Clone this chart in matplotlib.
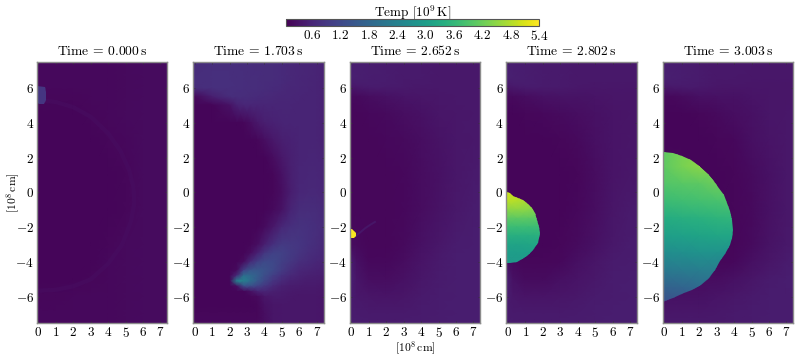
import matplotlib
matplotlib.use('Agg')
import matplotlib.pyplot as plt
import numpy as np
from matplotlib.patches import Polygon
from matplotlib.colors import Normalize

plt.rcParams['font.family'] = ['cmr10', 'DejaVu Serif']
plt.rcParams['mathtext.fontset'] = 'cm'
plt.rcParams['axes.formatter.use_mathtext'] = True
plt.rcParams['axes.unicode_minus'] = False

times = ['0.000', '1.703', '2.652', '2.802', '3.003']
cbar_ticks = [0.6, 1.2, 1.8, 2.4, 3.0, 3.6, 4.2, 4.8, 5.4]
x_ticks = [0, 1, 2, 3, 4, 5, 6, 7]
y_ticks = [-6, -4, -2, 0, 2, 4, 6]
v_min, v_max = 0.05, 5.4

# background temperature, rows from top to bottom
grid_x = [-0.1, 0.3, 1, 2, 3, 4, 5, 6, 7, 7.4]
grid_y = [7.5, 6.6, 6.1, 5.5, 4.5, 3, 1, -1, -3, -4, -5, -6, -7, -7.5]

t0_field = [
    [.17, .17, .17, .16, .16, .17, .18, .20, .20, .20],
    [.17, .17, .16, .16, .16, .17, .18, .20, .20, .20],
    [.17, .16, .16, .16, .16, .17, .18, .20, .20, .20],
    [.14, .14, .14, .15, .16, .17, .18, .20, .20, .20],
    [.12, .12, .12, .13, .14, .17, .18, .20, .20, .20],
    [.12, .12, .12, .12, .13, .14, .17, .20, .20, .20],
    [.12, .12, .12, .12, .12, .13, .15, .20, .20, .20],
    [.12, .12, .12, .12, .12, .13, .15, .20, .20, .20],
    [.12, .12, .12, .12, .12, .14, .18, .20, .20, .20],
    [.12, .12, .12, .12, .13, .16, .18, .20, .20, .20],
    [.13, .13, .13, .13, .15, .17, .18, .20, .20, .20],
    [.15, .15, .15, .16, .16, .17, .18, .20, .20, .20],
    [.16, .16, .16, .16, .17, .17, .18, .20, .20, .20],
    [.16, .16, .16, .16, .17, .17, .18, .20, .20, .20],
]
t2_field = [
    [.50, .48, .47, .43, .42, .41, .40, .40, .40, .40],
    [.50, .50, .48, .45, .42, .41, .40, .40, .40, .40],
    [.40, .42, .45, .44, .42, .40, .40, .40, .40, .40],
    [.18, .18, .22, .30, .34, .36, .38, .40, .40, .40],
    [.16, .15, .16, .18, .24, .30, .35, .38, .40, .40],
    [.15, .15, .15, .16, .19, .25, .32, .37, .40, .40],
    [.15, .15, .15, .15, .17, .22, .30, .37, .42, .42],
    [.15, .15, .15, .15, .16, .22, .32, .40, .45, .45],
    [.18, .18, .15, .15, .18, .28, .38, .45, .48, .48],
    [.50, .28, .17, .16, .22, .33, .42, .47, .48, .48],
    [.55, .35, .24, .22, .28, .38, .44, .47, .48, .48],
    [.48, .40, .36, .34, .36, .42, .46, .48, .48, .48],
    [.46, .44, .42, .42, .42, .44, .46, .48, .48, .48],
    [.48, .46, .44, .44, .44, .44, .46, .48, .48, .48],
]
t3_field = [
    [.50, .48, .46, .42, .42, .40, .40, .40, .40, .40],
    [.52, .50, .48, .44, .42, .40, .40, .40, .40, .40],
    [.38, .42, .45, .44, .42, .40, .38, .38, .38, .38],
    [.18, .18, .22, .28, .32, .32, .34, .36, .36, .36],
    [.13, .13, .14, .17, .20, .25, .30, .34, .36, .36],
    [.12, .12, .12, .13, .15, .18, .26, .33, .36, .36],
    [.12, .12, .12, .12, .13, .15, .23, .33, .38, .38],
    [.13, .13, .12, .12, .13, .16, .24, .36, .42, .42],
    [.20, .16, .13, .12, .14, .20, .30, .40, .45, .45],
    [.24, .18, .15, .14, .17, .26, .36, .43, .46, .46],
    [.52, .28, .20, .20, .26, .34, .40, .45, .47, .47],
    [.46, .38, .34, .34, .36, .40, .44, .46, .47, .47],
    [.44, .42, .42, .42, .42, .43, .45, .47, .47, .47],
    [.46, .44, .43, .43, .43, .43, .45, .47, .47, .47],
]
t4_field = [
    [.50, .48, .45, .42, .40, .40, .40, .38, .38, .38],
    [.52, .50, .47, .44, .40, .40, .38, .38, .38, .38],
    [.40, .42, .44, .42, .38, .36, .36, .36, .36, .36],
    [.16, .16, .20, .26, .30, .30, .33, .35, .36, .36],
    [.12, .12, .12, .15, .19, .24, .30, .35, .37, .37],
    [.12, .12, .12, .12, .14, .17, .26, .34, .37, .37],
    [.14, .14, .14, .13, .13, .15, .20, .30, .37, .37],
    [.14, .14, .14, .14, .13, .15, .18, .28, .38, .38],
    [.14, .14, .14, .14, .13, .15, .20, .32, .40, .40],
    [.14, .14, .14, .14, .14, .17, .26, .36, .44, .44],
    [.30, .28, .24, .22, .22, .28, .36, .44, .47, .47],
    [.24, .30, .28, .30, .34, .38, .42, .45, .46, .46],
    [.40, .38, .38, .38, .40, .42, .44, .46, .46, .46],
    [.40, .40, .40, .40, .40, .42, .44, .46, .46, .46],
]

p2_x = [-0.1, 1, 2, 2.4, 2.8, 3.2, 3.6, 4, 4.5, 5, 5.5, 6, 6.5, 7, 7.4]
p2_y = [7.5, 6.5, 6, 5.5, 5, 4, 3, 2, 1, 0, -1, -2, -3, -3.5, -4, -4.5, -4.8,
        -5.1, -5.4, -5.7, -6, -6.5, -7, -7.5]
t1_field = [
    [.70, .75, .75, .75, .72, .72, .70, .70, .70, .68, .65, .62, .60, .58, .55],
    [.75, .78, .78, .75, .75, .72, .72, .70, .70, .68, .65, .62, .60, .58, .55],
    [.72, .78, .78, .75, .75, .72, .72, .70, .68, .66, .63, .62, .60, .58, .55],
    [.15, .50, .72, .72, .72, .70, .68, .66, .65, .63, .62, .60, .58, .58, .55],
    [.12, .13, .30, .55, .62, .62, .60, .60, .60, .60, .60, .58, .58, .58, .55],
    [.12, .12, .12, .13, .15, .25, .40, .50, .55, .58, .58, .58, .58, .58, .55],
    [.12, .12, .12, .12, .12, .13, .15, .25, .40, .50, .55, .58, .58, .58, .55],
    [.12, .12, .12, .12, .12, .12, .12, .13, .22, .40, .52, .58, .60, .60, .58],
    [.12, .12, .12, .12, .12, .12, .12, .12, .15, .30, .50, .60, .62, .62, .60],
    [.12, .12, .12, .12, .12, .12, .12, .12, .14, .25, .48, .62, .65, .65, .62],
    [.12, .12, .12, .12, .12, .12, .12, .12, .18, .32, .58, .70, .72, .70, .66],
    [.12, .12, .12, .12, .12, .12, .13, .20, .40, .65, .78, .82, .80, .75, .70],
    [.12, .12, .12, .12, .12, .14, .25, .50, .80, .95, .92, .88, .80, .72, .65],
    [.12, .12, .12, .12, .13, .25, .55, .90, 1.10, 1.08, .95, .85, .75, .68, .62],
    [.12, .12, .12, .13, .22, .70, 1.05, 1.25, 1.22, 1.05, .90, .75, .68, .62, .58],
    [.12, .12, .12, .20, 1.1, 1.50, 1.50, 1.40, 1.20, .95, .76, .63, .58, .55, .52],
    [.12, .12, .12, .70, 2.0, 1.85, 1.60, 1.32, 1.02, .80, .65, .56, .52, .50, .48],
    [.12, .12, .13, 2.4, 2.4, 1.95, 1.50, 1.18, .85, .66, .54, .49, .45, .45, .42],
    [.12, .12, .13, .25, 1.3, 1.30, 1.10, .90, .66, .52, .46, .43, .42, .42, .40],
    [.12, .12, .12, .13, .13, .30, .55, .60, .50, .46, .42, .40, .40, .40, .38],
    [.12, .12, .12, .12, .12, .15, .18, .36, .42, .42, .40, .38, .38, .38, .36],
    [.13, .13, .13, .13, .13, .13, .14, .30, .36, .38, .38, .38, .38, .38, .36],
    [.15, .15, .15, .15, .15, .15, .15, .25, .35, .38, .38, .38, .38, .38, .36],
    [.16, .16, .16, .16, .16, .16, .16, .25, .35, .38, .38, .38, .38, .38, .36],
]
fields = [(grid_x, grid_y, t0_field), (p2_x, p2_y, t1_field), (grid_x, grid_y, t2_field),
          (grid_x, grid_y, t3_field), (grid_x, grid_y, t4_field)]

# hot regions: outline points and temperature tables
blob0_outline = [(-0.1, 6.1), (0.35, 6.05), (0.45, 5.8), (0.45, 5.3), (0.3, 5.1), (0.05, 5.1), (-0.1, 5.2)]
blob0_x, blob0_y = [-0.1, 0.5], [6.2, 5.0]
blob0_t = [[.88, .88], [.88, .88]]

blob2_outline = [(-0.1, -2.1), (0.05, -2.1), (0.15, -2.2), (0.25, -2.35), (0.25, -2.5), (0.15, -2.6), (-0.1, -2.62)]
blob2_x, blob2_y = [-0.1, 0.4], [-2.0, -2.7]
blob2_t = [[5.35, 5.35], [5.35, 5.35]]

blob3_outline = [(-0.1, 0.0), (0.1, -0.05), (0.3, -0.2), (0.88, -0.42), (1.15, -0.65), (1.36, -0.9), (1.52, -1.2), (1.64, -1.57),
                 (1.8, -2.0), (1.84, -2.33), (1.72, -2.9), (1.45, -3.3), (1.07, -3.67), (0.5, -4.0), (0.1, -4.08), (-0.1, -4.08)]
blob3_x, blob3_y = [-0.1, 0.5, 1.2, 1.9], [0.1, -0.5, -1, -1.5, -2, -2.5, -3, -3.5, -4.1]
blob3_t = [[5.0, 4.95, 4.8, 4.6],
           [4.85, 4.8, 4.65, 4.5],
           [4.45, 4.5, 4.45, 4.3],
           [4.05, 4.05, 4.05, 4.0],
           [3.7, 3.7, 3.7, 3.7],
           [3.4, 3.4, 3.4, 3.45],
           [3.15, 3.15, 3.2, 3.2],
           [3.0, 3.0, 3.0, 3.0],
           [2.95, 2.95, 2.9, 2.9]]

blob4_outline = [(-0.1, 2.32), (0.5, 2.28), (1, 2.12), (1.5, 1.85), (2, 1.52), (2.5, 1.05), (2.8, 0.72), (3.1, 0.32),
                 (3.4, -0.15), (3.6, -0.6), (3.75, -1.05), (3.88, -1.6), (3.93, -2.15), (3.9, -2.6), (3.75, -3.05),
                 (3.45, -3.55), (3.2, -3.95), (2.9, -4.45), (2.55, -4.9), (2.1, -5.35), (1.6, -5.62), (1.1, -5.8),
                 (0.5, -6.05), (0.05, -6.25), (-0.1, -6.3)]
blob4_x, blob4_y = [-0.1, 1, 2, 3, 4], [2.4, 1.5, 0.5, -0.5, -1.5, -2.5, -3.5, -4.5, -5.5, -6.4]
blob4_t = [[4.05, 4.3, 4.45, 4.3, 4.1],
           [4.05, 4.3, 4.45, 4.3, 4.1],
           [3.95, 4.0, 4.05, 4.2, 4.1],
           [3.7, 3.75, 3.8, 3.85, 3.95],
           [3.35, 3.4, 3.45, 3.5, 3.55],
           [3.05, 3.1, 3.15, 3.2, 3.2],
           [2.65, 2.7, 2.75, 2.75, 2.7],
           [2.2, 2.25, 2.3, 2.3, 2.3],
           [1.7, 1.75, 1.85, 1.85, 1.85],
           [1.35, 1.4, 1.45, 1.45, 1.45]]

blobs = {0: (blob0_outline, blob0_x, blob0_y, blob0_t),
         2: (blob2_outline, blob2_x, blob2_y, blob2_t),
         3: (blob3_outline, blob3_x, blob3_y, blob3_t),
         4: (blob4_outline, blob4_x, blob4_y, blob4_t)}

ring_x = [0, 1, 2, 3, 4, 4.7, 5.2, 5.45, 5.5, 5.3, 4.8, 4, 3, 2, 1, 0]
ring_y = [5.3, 5.2, 4.9, 4.35, 3.4, 2.4, 1.3, 0.3, -0.6, -1.7, -3, -4.1, -5, -5.4, -5.6, -5.65]
streak_x = [0.25, 0.5, 0.8, 1.1, 1.35]
streak_y = [-2.5, -2.3, -2.05, -1.85, -1.7]
gray = '#8c8c8c'

W, H = 797, 356
fig = plt.figure(figsize=(W / 100, H / 100), dpi=100)
lefts = [36.7, 193.0, 349.7, 506.3, 662.7]
pw, top, bottom = 130.7, 62.0, 322.8
norm = Normalize(v_min, v_max)
cmap = plt.get_cmap('viridis')

last = None
for i, left in enumerate(lefts):
    ax = fig.add_axes([left / W, 1 - bottom / H, pw / W, (bottom - top) / H])
    gx, gy, f = fields[i]
    last = ax.pcolormesh(gx, gy, np.array(f), cmap=cmap, norm=norm, shading='gouraud', rasterized=True)
    if i == 0:
        ax.plot(ring_x, ring_y, color=cmap(norm(0.24)), lw=3.0, alpha=0.55, zorder=1.5)
    if i == 2:
        ax.plot(streak_x, streak_y, color=cmap(norm(0.6)), lw=1.4, alpha=0.5, zorder=1.5)
    if i in blobs:
        outline, bx, by, bt = blobs[i]
        m = ax.pcolormesh(bx, by, np.array(bt), cmap=cmap, norm=norm, shading='gouraud', zorder=2)
        m.set_clip_path(Polygon(outline, closed=True, transform=ax.transData))
    ax.set_xlim(-0.1, 7.4)
    ax.set_ylim(-7.5, 7.5)
    ax.set_xticks(x_ticks)
    ax.set_yticks(y_ticks)
    ax.set_xticklabels([f'${v}$' for v in x_ticks])
    ax.set_yticklabels([f'${v}$' for v in y_ticks])
    ax.tick_params(direction='in', length=1.5, width=0.5, color='#333333', top=True, right=True,
                   labelsize=9.5, pad=2.0)
    for s in ax.spines.values():
        s.set_color(gray)
        s.set_linewidth(1.0)
    ax.set_title(f'Time = {times[i]}$\\,$s', fontsize=9.8, pad=5)
    if i == 0:
        ax.set_ylabel(r'$[10^8\,\mathrm{cm}]$', fontsize=8.4, va='center')
        ax.yaxis.set_label_coords((13 - left) / pw, 0.5)
    if i == 2:
        ax.set_xlabel(r'$[10^8\,\mathrm{cm}]$', fontsize=8.4, va='center')
        ax.xaxis.set_label_coords(0.5, (bottom - 348) / (bottom - top))

cax = fig.add_axes([285.7 / W, 1 - 25.7 / H, (539.3 - 285.7) / W, 6.4 / H])
cb = fig.colorbar(last, cax=cax, orientation='horizontal')
cb.set_ticks(cbar_ticks)
cb.set_ticklabels([f'${v:.1f}$' for v in cbar_ticks])
cb.ax.tick_params(length=0, labelsize=9.5, pad=2.5)
cb.minorticks_off()
cb.outline.set_edgecolor('#555555')
cb.outline.set_linewidth(0.8)
cax.xaxis.set_label_position('top')
cb.set_label(r'Temp $[10^9\,\mathrm{K}]$', fontsize=9.5, labelpad=2.0)

fig.savefig('out.png', dpi=100)
